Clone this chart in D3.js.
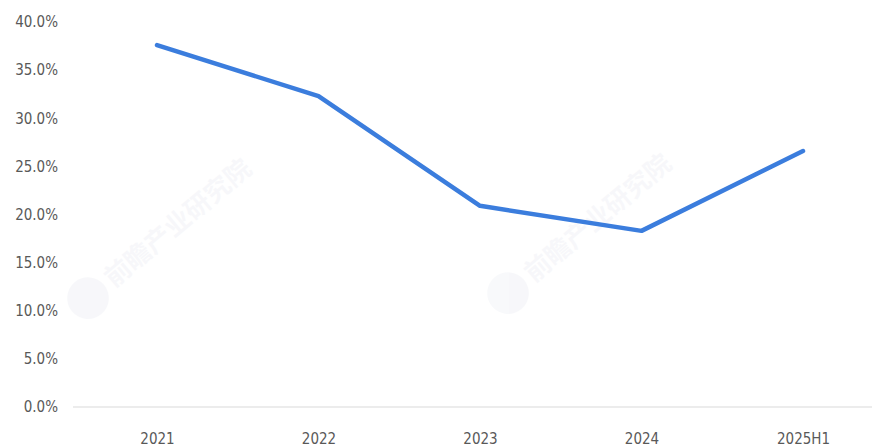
<!DOCTYPE html>
<html><head><meta charset="utf-8">
<script src="https://cdn.jsdelivr.net/npm/d3@7"></script>
<style>html,body{margin:0;padding:0;background:#fff;}svg{display:block;}</style>
</head><body>
<svg id="chart" width="878" height="448"></svg>
<script>
const categories = ["2021", "2022", "2023", "2024", "2025H1"];
const values = [37.6, 32.3, 20.9, 18.3, 26.6];
const yTicks = [0, 5, 10, 15, 20, 25, 30, 35, 40];

const svg = d3.select("#chart");
const x = d3.scalePoint().domain(categories).range([157, 803]);
const y = d3.scaleLinear().domain([0, 40]).range([407, 22]);
const font = "'Liberation Sans Narrow', 'DejaVu Sans Condensed', 'Liberation Sans', Arial, sans-serif";

// faint watermarks
const wm = [[100, 300, 26], [520, 295, 26]];
wm.forEach(([wx, wy, fs]) => {
  const g = svg.append("g").attr("transform", `translate(${wx},${wy}) rotate(-40)`).attr("opacity", 0.035);
  g.append("circle").attr("cx", -8).attr("cy", -fs * 0.35).attr("r", fs * 0.8).attr("fill", "#3a4a8a");
  g.append("text").attr("x", fs * 0.7).attr("y", 0).attr("font-family", "'Noto Sans CJK SC', sans-serif")
    .attr("font-size", fs).attr("font-weight", "bold").attr("fill", "#3a4a8a").text("前瞻产业研究院");
});

// y axis labels
const yAxis = d3.axisLeft(y).tickValues(yTicks).tickSize(0).tickPadding(0)
  .tickFormat(d => d3.format(".1f")(d) + "%");
svg.append("g").attr("transform", "translate(58,0)").call(yAxis)
  .call(g => g.select(".domain").remove())
  .selectAll("text").attr("font-family", font).attr("font-size", 15).attr("fill", "#595959");

// x axis
const xAxis = d3.axisBottom(x).tickSize(0).tickPadding(0);
svg.append("g").attr("transform", "translate(0,433)").call(xAxis)
  .call(g => g.select(".domain").remove())
  .selectAll("text").attr("font-family", font).attr("font-size", 15).attr("fill", "#595959").attr("dy", "0.71em");

svg.append("line").attr("x1", 73).attr("x2", 872).attr("y1", y(0)).attr("y2", y(0))
  .attr("stroke", "#d9d9d9").attr("stroke-width", 1.2);

// line
const line = d3.line().x((d, i) => x(categories[i])).y(d => y(d));
svg.append("path").datum(values).attr("d", line)
  .attr("fill", "none").attr("stroke", "#3b7ddd").attr("stroke-width", 4.5)
  .attr("stroke-linejoin", "round").attr("stroke-linecap", "round");
</script>
</body></html>
